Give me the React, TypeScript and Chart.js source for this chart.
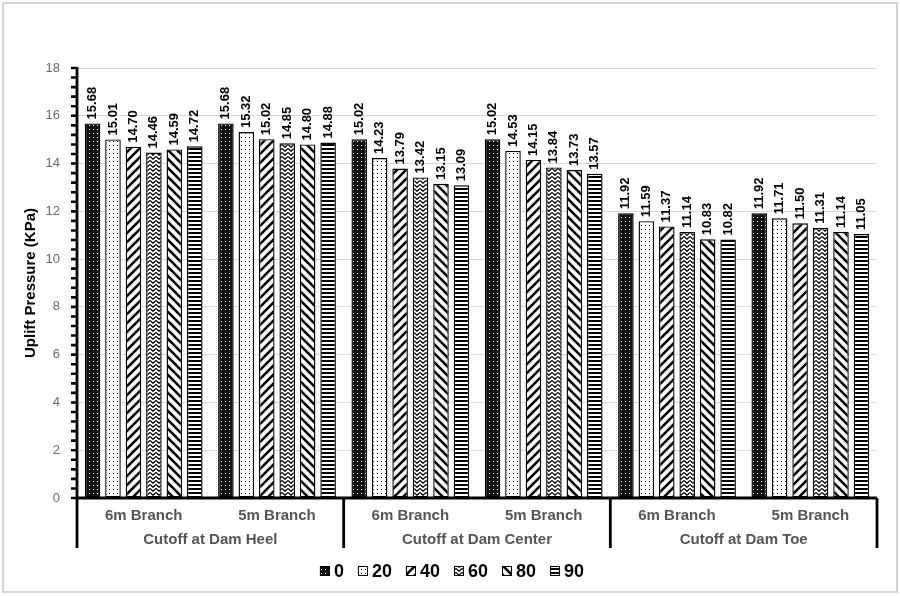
import { useEffect, useRef } from 'react';
import { Chart, registerables } from 'chart.js';

Chart.register(...registerables);

const branches = ['6m Branch', '5m Branch', '6m Branch', '5m Branch', '6m Branch', '5m Branch'];
const cutoffs = ['Cutoff at Dam Heel', 'Cutoff at Dam Center', 'Cutoff at Dam Toe'];
const seriesNames = ['0', '20', '40', '60', '80', '90'];
const s0 = [15.68, 15.68, 15.02, 15.02, 11.92, 11.92];
const s20 = [15.01, 15.32, 14.23, 14.53, 11.59, 11.71];
const s40 = [14.7, 15.02, 13.79, 14.15, 11.37, 11.5];
const s60 = [14.46, 14.85, 13.42, 13.84, 11.14, 11.31];
const s80 = [14.59, 14.8, 13.15, 13.73, 10.83, 11.14];
const s90 = [14.72, 14.88, 13.09, 13.57, 10.82, 11.05];
const seriesValues = [s0, s20, s40, s60, s80, s90];
const yMin = 0;
const yMax = 18;
const yStep = 2;
const yMinorStep = 0.4;

const FONT = "'Liberation Sans', Arial, sans-serif";

function makePattern(kind: number): CanvasPattern {
  const c = document.createElement('canvas');
  const ctx = c.getContext('2d')!;
  if (kind === 0) {
    c.width = 4; c.height = 4;
    ctx.fillStyle = '#111';
    ctx.fillRect(0, 0, 4, 4);
    ctx.fillStyle = '#fff';
    ctx.fillRect(1, 1, 1, 1);
  } else if (kind === 1) {
    c.width = 4; c.height = 4;
    ctx.fillStyle = '#fff';
    ctx.fillRect(0, 0, 4, 4);
    ctx.fillStyle = '#000';
    ctx.fillRect(1, 1, 1, 1);
  } else if (kind === 2 || kind === 4) {
    const s = 9;
    c.width = s; c.height = s;
    ctx.fillStyle = '#fff';
    ctx.fillRect(0, 0, s, s);
    ctx.strokeStyle = '#000';
    ctx.lineWidth = 2.6;
    ctx.beginPath();
    if (kind === 2) {
      ctx.moveTo(-1, s + 1); ctx.lineTo(s + 1, -1);
      ctx.moveTo(-s / 2 - 1, s / 2 + 1); ctx.lineTo(s / 2 + 1, -s / 2 - 1);
      ctx.moveTo(s / 2 - 1, s * 1.5 + 1); ctx.lineTo(s * 1.5 + 1, s / 2 - 1);
    } else {
      ctx.moveTo(-1, -1); ctx.lineTo(s + 1, s + 1);
      ctx.moveTo(-s / 2 - 1, s / 2 - 1); ctx.lineTo(s / 2 + 1, s * 1.5 + 1);
      ctx.moveTo(s / 2 - 1, -s / 2 - 1); ctx.lineTo(s * 1.5 + 1, s / 2 + 1);
    }
    ctx.stroke();
  } else if (kind === 3) {
    c.width = 6; c.height = 4;
    ctx.fillStyle = '#fff';
    ctx.fillRect(0, 0, 6, 4);
    ctx.strokeStyle = '#000';
    ctx.lineWidth = 1.3;
    ctx.beginPath();
    ctx.moveTo(0, 0.5); ctx.lineTo(3, 3.2); ctx.lineTo(6, 0.5);
    ctx.stroke();
  } else {
    c.width = 4; c.height = 4;
    ctx.fillStyle = '#fff';
    ctx.fillRect(0, 0, 4, 4);
    ctx.fillStyle = '#000';
    ctx.fillRect(0, 0, 4, 2);
  }
  return ctx.createPattern(c, 'repeat')!;
}

export default function App() {
  const ref = useRef<HTMLCanvasElement | null>(null);

  useEffect(() => {
    if (!ref.current) return;
    const patterns = seriesNames.map((_, i) => makePattern(i));

    const decor = {
      id: 'decor',
      beforeDraw(chart: any) {
        const ctx = chart.ctx;
        ctx.save();
        ctx.fillStyle = '#fff';
        ctx.fillRect(0, 0, chart.width, chart.height);
        ctx.strokeStyle = '#d4d4d4';
        ctx.lineWidth = 2;
        ctx.strokeRect(3, 3, chart.width - 6, chart.height - 7);
        ctx.restore();
      },
      afterDatasetsDraw(chart: any) {
        const ctx = chart.ctx;
        const { left, right, top, bottom } = chart.chartArea;
        const y = chart.scales.y;
        const x = chart.scales.x;
        ctx.save();
        // data labels
        ctx.fillStyle = '#000';
        ctx.font = `bold 13px ${FONT}`;
        ctx.textAlign = 'left';
        ctx.textBaseline = 'middle';
        chart.data.datasets.forEach((ds: any, di: number) => {
          const meta = chart.getDatasetMeta(di);
          meta.data.forEach((el: any, i: number) => {
            ctx.save();
            ctx.translate(el.x, el.y - 4);
            ctx.rotate(-Math.PI / 2);
            ctx.fillText(Number(ds.data[i]).toFixed(2), 0, 0);
            ctx.restore();
          });
        });
        // axes
        ctx.strokeStyle = '#000';
        ctx.lineWidth = 2.8;
        ctx.beginPath();
        ctx.moveTo(left, top - 1);
        ctx.lineTo(left, bottom + 50);
        ctx.moveTo(left, bottom);
        ctx.lineTo(right, bottom);
        ctx.stroke();
        // minor/major ticks on y
        ctx.lineWidth = 2.6;
        ctx.beginPath();
        const n = Math.round((yMax - yMin) / yMinorStep);
        for (let k = 0; k <= n; k++) {
          const py = y.getPixelForValue(yMin + k * yMinorStep);
          ctx.moveTo(left - 6, py);
          ctx.lineTo(left, py);
        }
        ctx.stroke();
        // separators between cutoff groups
        const catW = (right - left) / branches.length;
        ctx.lineWidth = 2.8;
        ctx.beginPath();
        for (let g = 1; g <= cutoffs.length; g++) {
          const px = left + g * 2 * catW;
          ctx.moveTo(px, bottom);
          ctx.lineTo(px, bottom + 50);
        }
        ctx.stroke();
        // category labels
        ctx.fillStyle = '#555';
        ctx.font = `bold 15px ${FONT}`;
        ctx.textAlign = 'center';
        ctx.textBaseline = 'middle';
        branches.forEach((b, i) => {
          ctx.fillText(b, x.getPixelForValue(i), bottom + 18);
        });
        cutoffs.forEach((c, g) => {
          const px = (x.getPixelForValue(g * 2) + x.getPixelForValue(g * 2 + 1)) / 2;
          ctx.fillText(c, px, bottom + 42);
        });
        // legend
        ctx.font = `bold 18px ${FONT}`;
        ctx.textBaseline = 'middle';
        ctx.textAlign = 'left';
        const sw = 10, gap1 = 4, gap2 = 14;
        const widths = seriesNames.map((s) => ctx.measureText(s).width);
        const total = widths.reduce((a, w) => a + sw + gap1 + w, 0) + gap2 * (seriesNames.length - 1);
        let lx = 452 - total / 2;
        const ly = 571;
        seriesNames.forEach((s, i) => {
          ctx.fillStyle = patterns[i];
          ctx.fillRect(lx, ly - 5, sw, sw);
          ctx.strokeStyle = '#000';
          ctx.lineWidth = 1;
          ctx.strokeRect(lx + 0.5, ly - 4.5, sw - 1, sw - 1);
          ctx.fillStyle = '#000';
          ctx.fillText(s, lx + sw + gap1, ly + 1);
          lx += sw + gap1 + widths[i] + gap2;
        });
        ctx.restore();
      },
    };

    const chart = new Chart(ref.current, {
      type: 'bar',
      data: {
        labels: branches,
        datasets: seriesNames.map((name, i) => ({
          label: name,
          data: seriesValues[i],
          backgroundColor: patterns[i],
          borderColor: '#000',
          borderWidth: 1.4,
          borderSkipped: false,
          categoryPercentage: 0.92,
          barPercentage: 0.76,
        })),
      },
      options: {
        animation: false,
        responsive: false,
        devicePixelRatio: 1,
        layout: { padding: { left: 0, right: 23, top: 68, bottom: 0 } },
        plugins: {
          legend: { display: false },
          tooltip: { enabled: false },
        },
        scales: {
          x: {
            type: 'category',
            ticks: { display: false },
            grid: { display: false },
            border: { display: false },
            afterFit: (scale: any) => { scale.height = 98; },
          },
          y: {
            min: yMin,
            max: yMax,
            ticks: {
              stepSize: yStep,
              color: '#6b6b6b',
              padding: 17,
              font: { family: FONT, size: 13 },
            },
            grid: { color: '#d9d9d9', lineWidth: 1, drawTicks: false },
            border: { display: false },
            title: {
              display: true,
              text: 'Uplift Pressure (KPa)',
              color: '#000',
              font: { family: FONT, size: 15, weight: 'bold' },
              padding: { top: 22, bottom: 0 },
            },
            afterFit: (scale: any) => { scale.width = 77; },
          },
        },
      },
      plugins: [decor],
    } as any);

    return () => chart.destroy();
  }, []);

  return (
    <div style={{ position: 'absolute', left: 0, top: 0, width: 900, height: 596 }}>
      <canvas ref={ref} width={900} height={596} style={{ display: 'block' }} />
    </div>
  );
}
